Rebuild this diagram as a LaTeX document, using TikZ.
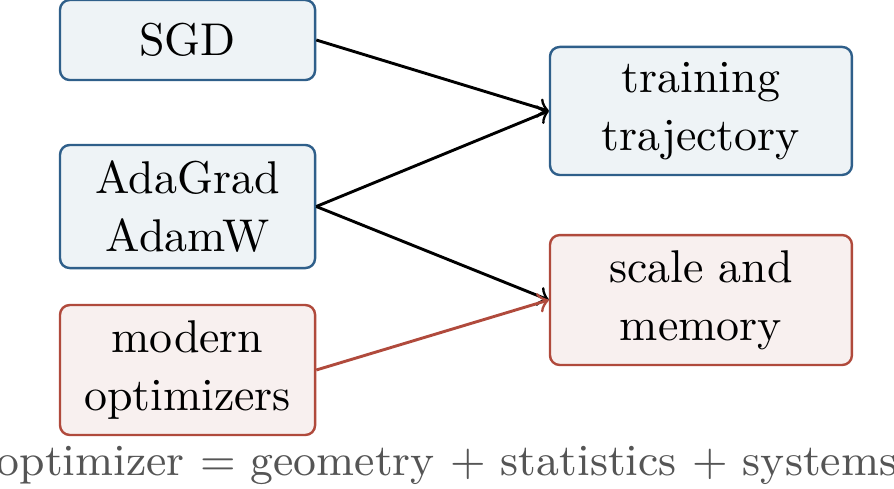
\documentclass[tikz,border=0pt]{standalone}
\usetikzlibrary{positioning}

\definecolor{optblue}{HTML}{2F5F8A}
\definecolor{optbluefill}{HTML}{EEF3F6}
\definecolor{optred}{HTML}{B04A3C}
\definecolor{optredfill}{HTML}{F8F0EF}
\definecolor{notegray}{HTML}{555555}

\begin{document}
\begin{tikzpicture}[
    font=\fontsize{9.5}{12}\selectfont,
    box/.style={draw, line width=0.5pt, rounded corners=2pt, align=center, inner sep=0pt},
    bluebox/.style={box, draw=optblue, fill=optbluefill},
    redbox/.style={box, draw=optred, fill=optredfill},
    link/.style={->, semithick}
]
    % Bounding box
    \useasboundingbox (0,0) rectangle (6.502,-3.556);

    % Optimizer families (left)
    \node[bluebox, minimum width=1.855cm, minimum height=0.582cm] (sgd) at (1.364,-0.291) {SGD};
    \node[bluebox, minimum width=1.855cm, minimum height=0.895cm] (ada) at (1.364,-1.502) {AdaGrad\\AdamW};
    \node[redbox, minimum width=1.855cm, minimum height=0.945cm] (modern) at (1.364,-2.691) {modern\\optimizers};

    % Concerns (right)
    \node[bluebox, minimum width=2.196cm, minimum height=0.931cm] (traj) at (5.098,-0.807) {training\\trajectory};
    \node[redbox, minimum width=2.196cm, minimum height=0.945cm] (scale) at (5.098,-2.182) {scale and\\memory};

    % Links
    \draw[link] (sgd.east) -- (traj.west);
    \draw[link] (ada.east) -- (traj.west);
    \draw[link] (ada.east) -- (scale.west);
    \draw[link, optred] (modern.east) -- (scale.west);

    % Summary line
    \node[text=notegray, font=\fontsize{9.2}{12}\selectfont, inner sep=0pt] (summary) at (3.251,-3.385) {optimizer = geometry + statistics + systems};
\end{tikzpicture}
\end{document}
